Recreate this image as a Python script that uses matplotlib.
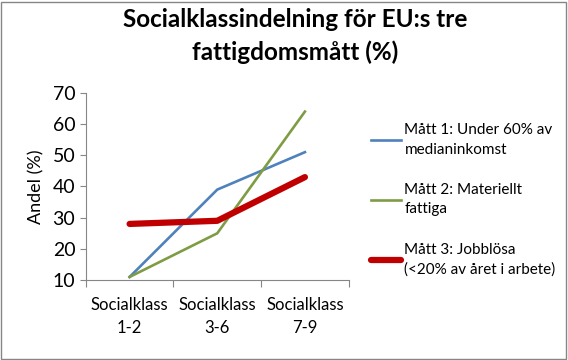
import matplotlib.pyplot as plt
from matplotlib.patches import Rectangle

kategorier = ["Socialklass\n1-2", "Socialklass\n3-6", "Socialklass\n7-9"]
matt1 = [11, 39, 51]
matt2 = [11, 25, 64]
matt3 = [28, 29, 43]
etiketter = ["Mått 1: Under 60% av\nmedianinkomst",
             "Mått 2: Materiellt\nfattiga",
             "Mått 3: Jobblösa\n(<20% av året i arbete)"]

plt.rcParams['font.family'] = ['Lato', 'DejaVu Sans']

fig = plt.figure(figsize=(5.68, 3.6), dpi=100)
ax = fig.add_axes([0.151, 0.222, 0.463, 0.52])

x = range(len(kategorier))
ax.plot(x, matt1, color="#4F81BD", lw=1.9, label=etiketter[0])
ax.plot(x, matt2, color="#7F9C45", lw=1.9, label=etiketter[1])
ax.plot(x, matt3, color="#C00000", lw=4.5, solid_capstyle="round", label=etiketter[2])

ax.set_xlim(-0.5, 2.5)
ax.set_ylim(10, 70)
ax.set_yticks(range(10, 71, 10))
ax.set_xticks([-0.5, 0.5, 1.5, 2.5], minor=False)
ax.set_xticklabels([])
ax.set_xticks(list(x), minor=True)
ax.set_xticklabels(kategorier, minor=True, linespacing=1.55)
ax.tick_params(axis="x", which="minor", length=0, pad=12, labelsize=12)
ax.tick_params(axis="x", which="major", length=5, color="#868686", direction="out")
ax.tick_params(axis="y", length=4, color="#868686", labelsize=14)
for s in ["top", "right"]:
    ax.spines[s].set_visible(False)
for s in ["left", "bottom"]:
    ax.spines[s].set_color("#868686")
ax.set_ylabel("Andel (%)", fontsize=13, labelpad=6)

fig.suptitle("Socialklassindelning för EU:s tre\nfattigdomsmått (%)", fontsize=17.5,
             fontweight="bold", x=0.52, y=0.978, linespacing=1.5)

leg = ax.legend(loc="upper left", bbox_to_anchor=(0.642, 0.675), bbox_transform=fig.transFigure,
                frameon=False, fontsize=11, handlelength=2.0, handletextpad=0.2,
                labelspacing=1.72, borderaxespad=0)
for t in leg.get_texts():
    t.set_linespacing(1.5)

fig.patches.append(Rectangle((0.002, 0.003), 0.994, 0.992, transform=fig.transFigure,
                             fill=False, edgecolor="#868686", lw=1))
fig.savefig("out.png", dpi=100)
